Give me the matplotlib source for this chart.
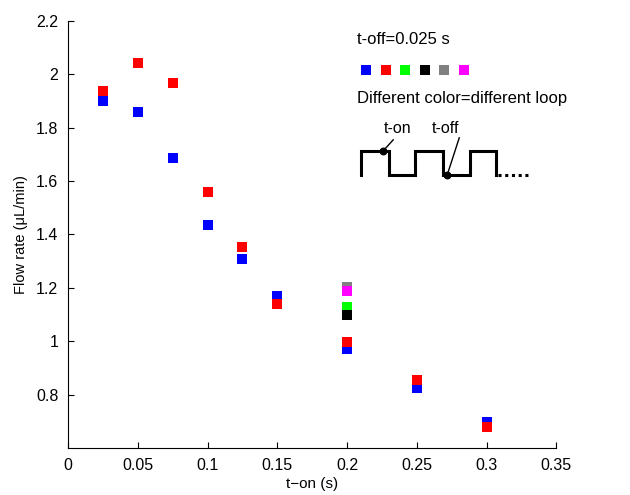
import numpy as np
import matplotlib
matplotlib.use('Agg')
from matplotlib import pyplot as plt

plt.rcParams['font.family'] = ['Liberation Sans', 'DejaVu Sans']

# t-on values (s)
t_on = np.array([0.025, 0.05, 0.075, 0.1, 0.125, 0.15, 0.2, 0.25, 0.3])
# flow rates for the two main loops
blue_flow = np.array([1.90, 1.86, 1.686, 1.435, 1.308, 1.169, 0.97, 0.824, 0.698])
red_flow = np.array([1.938, 2.043, 1.968, 1.559, 1.353, 1.139, 0.996, 0.854, 0.678])
# extra loops measured only at t-on = 0.2 s
extra_t = [0.2, 0.2, 0.2, 0.2]
extra_flow = [1.203, 1.188, 1.128, 1.098]
extra_colors = ['#808080', '#ff00ff', '#00ff00', '#000000']

loop_colors = ['#0000ff', '#ff0000', '#00ff00', '#000000', '#808080', '#ff00ff']

fig = plt.figure(figsize=(6.3, 4.95), dpi=100)
ax = fig.add_axes([0.108, 0.095, 0.775, 0.863])

ms = 58
ax.scatter(t_on, blue_flow, marker='s', s=ms, c='#0000ff', linewidths=0)
ax.scatter(extra_t, extra_flow, marker='s', s=ms, c=extra_colors, linewidths=0)
ax.scatter(t_on, red_flow, marker='s', s=ms, c='#ff0000', linewidths=0)

ax.set_xlim(0, 0.35)
ax.set_ylim(0.6, 2.2)
ax.set_xticks([0, 0.05, 0.1, 0.15, 0.2, 0.25, 0.3, 0.35])
ax.set_xticklabels(['0', '0.05', '0.1', '0.15', '0.2', '0.25', '0.3', '0.35'])
ax.set_yticks([0.8, 1, 1.2, 1.4, 1.6, 1.8, 2, 2.2])
ax.set_yticklabels(['0.8', '1', '1.2', '1.4', '1.6', '1.8', '2', '2.2'])
ax.tick_params(direction='in', labelsize=11.5, length=4, width=0.8, pad=7)
ax.spines['top'].set_visible(False)
ax.spines['right'].set_visible(False)
ax.set_xlabel('t\u2212on (s)', fontsize=11, labelpad=3)
ax.set_ylabel('Flow rate (\u03bcL/min)', fontsize=10.5, labelpad=6)

# annotation block (axes fraction coordinates)
def fx(px):
    return (px - 68) / 488.0

def fy(py):
    return (448 - py) / 427.0

tr = ax.transAxes
ax.text(fx(357), fy(40), 't-off=0.025 s', transform=tr, fontsize=12, va='center')
for i, c in enumerate(loop_colors):
    ax.scatter(fx(366 + 19.5 * i), fy(70), marker='s', s=ms, c=c, linewidths=0,
               transform=tr, clip_on=False)
ax.text(fx(357), fy(99), 'Different color=different loop', transform=tr,
        fontsize=12, va='center')

# square wave sketch
wx = [361, 361, 389, 389, 415, 415, 443, 443, 470, 470, 496, 496]
wy = [175, 151, 151, 175, 175, 151, 151, 175, 175, 151, 151, 175]
ax.plot([fx(v) for v in wx], [fy(v) for v in wy], color='black', lw=2.2,
        transform=tr, clip_on=False, solid_joinstyle='miter')
ax.plot([fx(498), fx(530)], [fy(175), fy(175)], color='black', lw=2.2,
        linestyle=(0, (1, 1.2)), transform=tr, clip_on=False)
ax.plot([fx(383), fx(393)], [fy(151), fy(140)], color='black', lw=1, transform=tr)
ax.scatter(fx(383), fy(151), s=22, c='black', transform=tr, zorder=5)
ax.plot([fx(447), fx(459)], [fy(175), fy(138)], color='black', lw=1, transform=tr)
ax.scatter(fx(447), fy(175), s=22, c='black', transform=tr, zorder=5)
ax.text(fx(384), fy(129), 't-on', transform=tr, fontsize=11.5, va='center')
ax.text(fx(432), fy(129), 't-off', transform=tr, fontsize=11.5, va='center')

fig.savefig('out.png', dpi=100)
